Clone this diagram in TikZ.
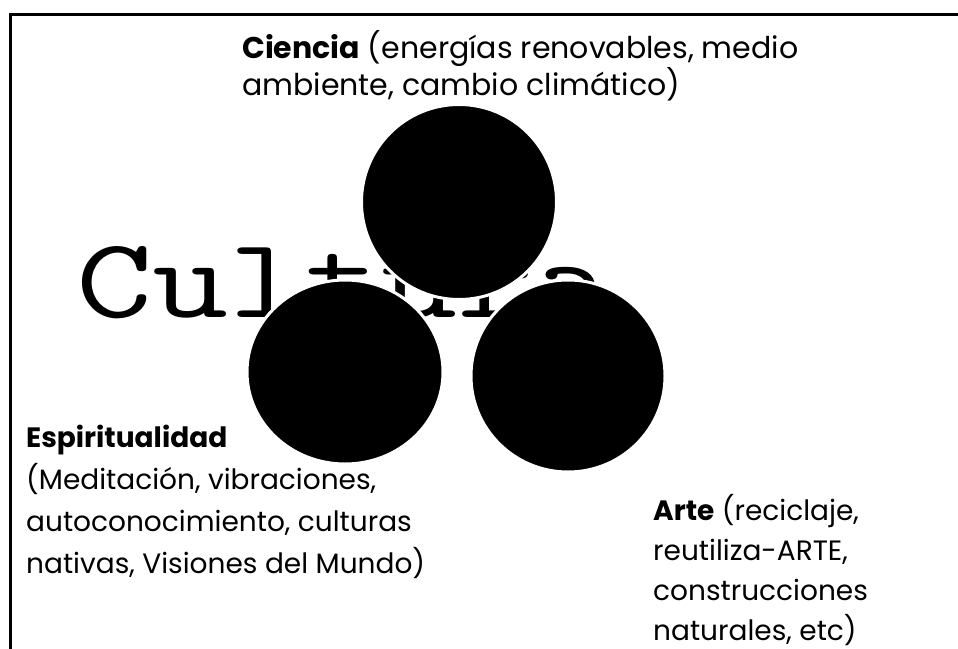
\documentclass[tikz,border=0pt]{standalone}
\usepackage{fontspec}
\usepackage{graphicx}
\setmainfont{Poppins}
\usetikzlibrary{shapes.geometric}
\tikzset{
  ball/.style={ellipse, fill=black, draw=white, line width=3pt, inner sep=0pt},
  lab/.style={anchor=north west, inner sep=0pt, align=left, font=\fontsize{28}{42}\selectfont},
}
\begin{document}
\begin{tikzpicture}[x=1pt,y=-1pt]
\clip (0,0) rectangle (958,648);
\fill[white] (0,0) rectangle (958,648);
\draw[line width=3pt] (10,700) -- (10,14) -- (1000,14);
\node[anchor=base west, inner sep=0pt, font=\ttfamily\fontsize{114}{114}\selectfont] (cultura) at (76,317) {\scalebox{1.3}[1]{Cultura}};
\node[ball, minimum width=195pt, minimum height=195pt] (ciencia) at (459,202) {};
\node[ball, minimum width=196pt, minimum height=184pt] (espir) at (345,372) {};
\node[ball, minimum width=194pt, minimum height=192pt] (arte) at (568,376) {};
\node[lab, font=\fontsize{30}{37}\selectfont] (tciencia) at (242,30) {\textbf{Ciencia} (energías renovables, medio\\ambiente, cambio climático)};
\node[lab] (tespir) at (26,425) {\textbf{Espiritualidad}\\(Meditación, vibraciones,\\autoconocimiento, culturas\\nativas, Visiones del Mundo)};
\node[lab, font=\fontsize{28}{40}\selectfont] (tarte) at (653,494) {\textbf{Arte} (reciclaje,\\reutiliza-ARTE,\\construcciones\\naturales, etc)};
\end{tikzpicture}
\end{document}
